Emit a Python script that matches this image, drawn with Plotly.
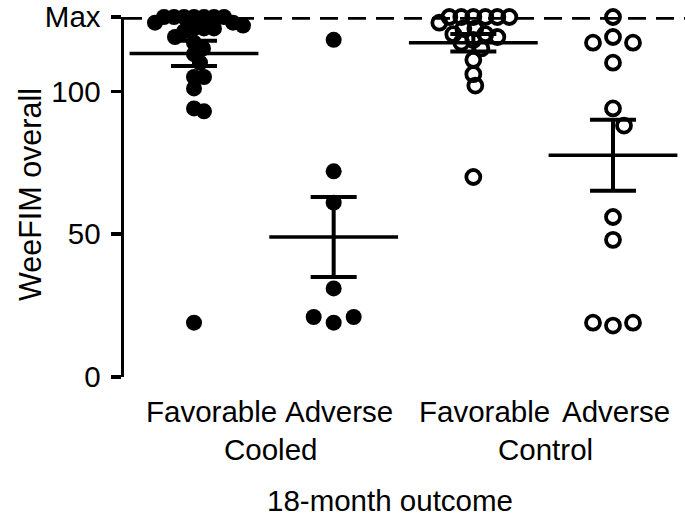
import numpy as np
import plotly.graph_objects as go

# ---- data ----
groups = ["Favorable", "Adverse", "Favorable", "Adverse"]
treatments = ["Cooled", "Control"]
cooled_favorable = [126, 126, 126, 126, 126, 126, 126, 124, 124, 123, 122, 122,
                    121, 122, 119, 117, 115, 113, 110, 105, 105, 101, 94, 93, 19]
cooled_adverse = [118, 72, 61, 31, 19, 21, 21]
control_favorable = [126, 126, 126, 126, 126, 126, 124, 122, 122, 120, 120, 119, 118,
                     117, 115, 111, 106, 102, 70]
control_adverse = [126, 110, 119, 117, 117, 94, 88, 56, 48, 18, 19, 19]
series = [cooled_favorable, cooled_adverse, control_favorable, control_adverse]
filled = [True, True, False, False]
y_tickvals = [0, 50, 100, 126]
y_ticktext = ["0", "50", "100", "Max"]
y_max = 126
x_title = "18-month outcome"
y_title = "WeeFIM overall"

# ---- layout geometry (page pixels; body margin removed by post_script) ----
W, H = 685, 526
AX_X, TOP_Y, BOT_Y = 124, 17, 377          # axis / top / zero
ML, MT, MR = AX_X, TOP_Y, 0
MB = H - BOT_Y
PW, PH = W - ML - MR, H - MT - MB
CAT0_X, CAT3_X = 194, 613                  # first / last category centre
XPX = (CAT3_X - CAT0_X) / 3.0
X0 = -(CAT0_X - AX_X) / XPX
X1 = X0 + PW / XPX
YPX = PH / y_max
FONT = "Liberation Sans, Arial, Helvetica, sans-serif"
FS = 29.5
SWARM_GAP = [10, 20, 11.5, 20]              # min centre distance (px) per group


def paper_x(px):
    return (px - ML) / PW


def paper_y(py):
    return (BOT_Y - py) / PH


def beeswarm(values, dmin):
    placed, offs = [], []
    for v in values:
        yp = v * YPX
        best = None
        k = 0
        while best is None:
            for s in ([0] if k == 0 else [k, -k]):
                if all((s - px) ** 2 + (yp - py) ** 2 >= dmin ** 2 for px, py in placed):
                    best = s
                    break
            k += 1
        placed.append((best, yp))
        offs.append(best / XPX)
    return offs


fig = go.Figure()
for i, vals in enumerate(series):
    vals = np.array(vals, dtype=float)
    offs = beeswarm(vals, SWARM_GAP[i])
    if filled[i]:
        marker = dict(symbol="circle", size=16, color="black", line=dict(width=0))
    else:
        marker = dict(symbol="circle-open", size=14, color="black", line=dict(width=3.8))
    fig.add_trace(go.Scatter(x=[i + o for o in offs], y=vals, mode="markers",
                             marker=marker, cliponaxis=False, showlegend=False,
                             hoverinfo="y"))

for i, vals in enumerate(series):
    vals = np.array(vals, dtype=float)
    m = vals.mean()
    sem = vals.std(ddof=1) / np.sqrt(len(vals))
    fig.add_trace(go.Scatter(x=[i], y=[m], mode="markers",
                             marker=dict(symbol="line-ew-open", size=92, color="black",
                                         line=dict(width=3.5, color="black")),
                             error_y=dict(type="data", array=[sem], visible=True,
                                          color="black", thickness=4, width=23),
                             cliponaxis=False, showlegend=False, hoverinfo="y"))

fig.add_shape(type="line", xref="paper", yref="y", x0=0, x1=1, y0=y_max, y1=y_max,
              line=dict(color="black", width=5.5, dash="18px,10px"), layer="above")

font = dict(size=FS, color="black", family=FONT)
ann = []
for px, g in zip([211, 339, 484, 616], groups):
    ann.append(dict(x=paper_x(px), y=paper_y(411), xref="paper", yref="paper",
                    xanchor="center", yanchor="middle", text=g, showarrow=False,
                    font=font))
for px, t in zip([270, 545], treatments):
    ann.append(dict(x=paper_x(px), y=paper_y(449), xref="paper", yref="paper",
                    xanchor="center", yanchor="middle", text=t, showarrow=False,
                    font=font))
ann.append(dict(x=paper_x(390), y=paper_y(500), xref="paper", yref="paper",
                xanchor="center", yanchor="middle", text=x_title, showarrow=False,
                font=font))
ann.append(dict(x=paper_x(30), y=paper_y(194), xref="paper", yref="paper",
                xanchor="center", yanchor="middle", text=y_title, textangle=-90,
                showarrow=False, font=dict(size=30.5, color="black", family=FONT)))

fig.update_layout(
    width=W, height=H, margin=dict(l=ML, r=MR, t=MT, b=MB, pad=0, autoexpand=False),
    paper_bgcolor="white", plot_bgcolor="white",
    font=font,
    annotations=ann,
    hovermode=False,
    xaxis=dict(range=[X0, X1], showgrid=False, zeroline=False, showline=False,
               showticklabels=False, ticks="", automargin=False),
    yaxis=dict(range=[0, y_max], showgrid=False, zeroline=False, showline=True,
               linecolor="black", linewidth=3.5, ticks="outside", ticklen=10,
               tickwidth=3.5, tickcolor="black", tickvals=y_tickvals,
               ticktext=y_ticktext, tickfont=dict(size=FS, family=FONT),
               ticklabelstandoff=4, ticklabeloverflow="allow", automargin=False),
)
fig.write_html("out.html",
               config={"displayModeBar": False, "staticPlot": True},
               post_script="document.body.style.margin='0px';")
